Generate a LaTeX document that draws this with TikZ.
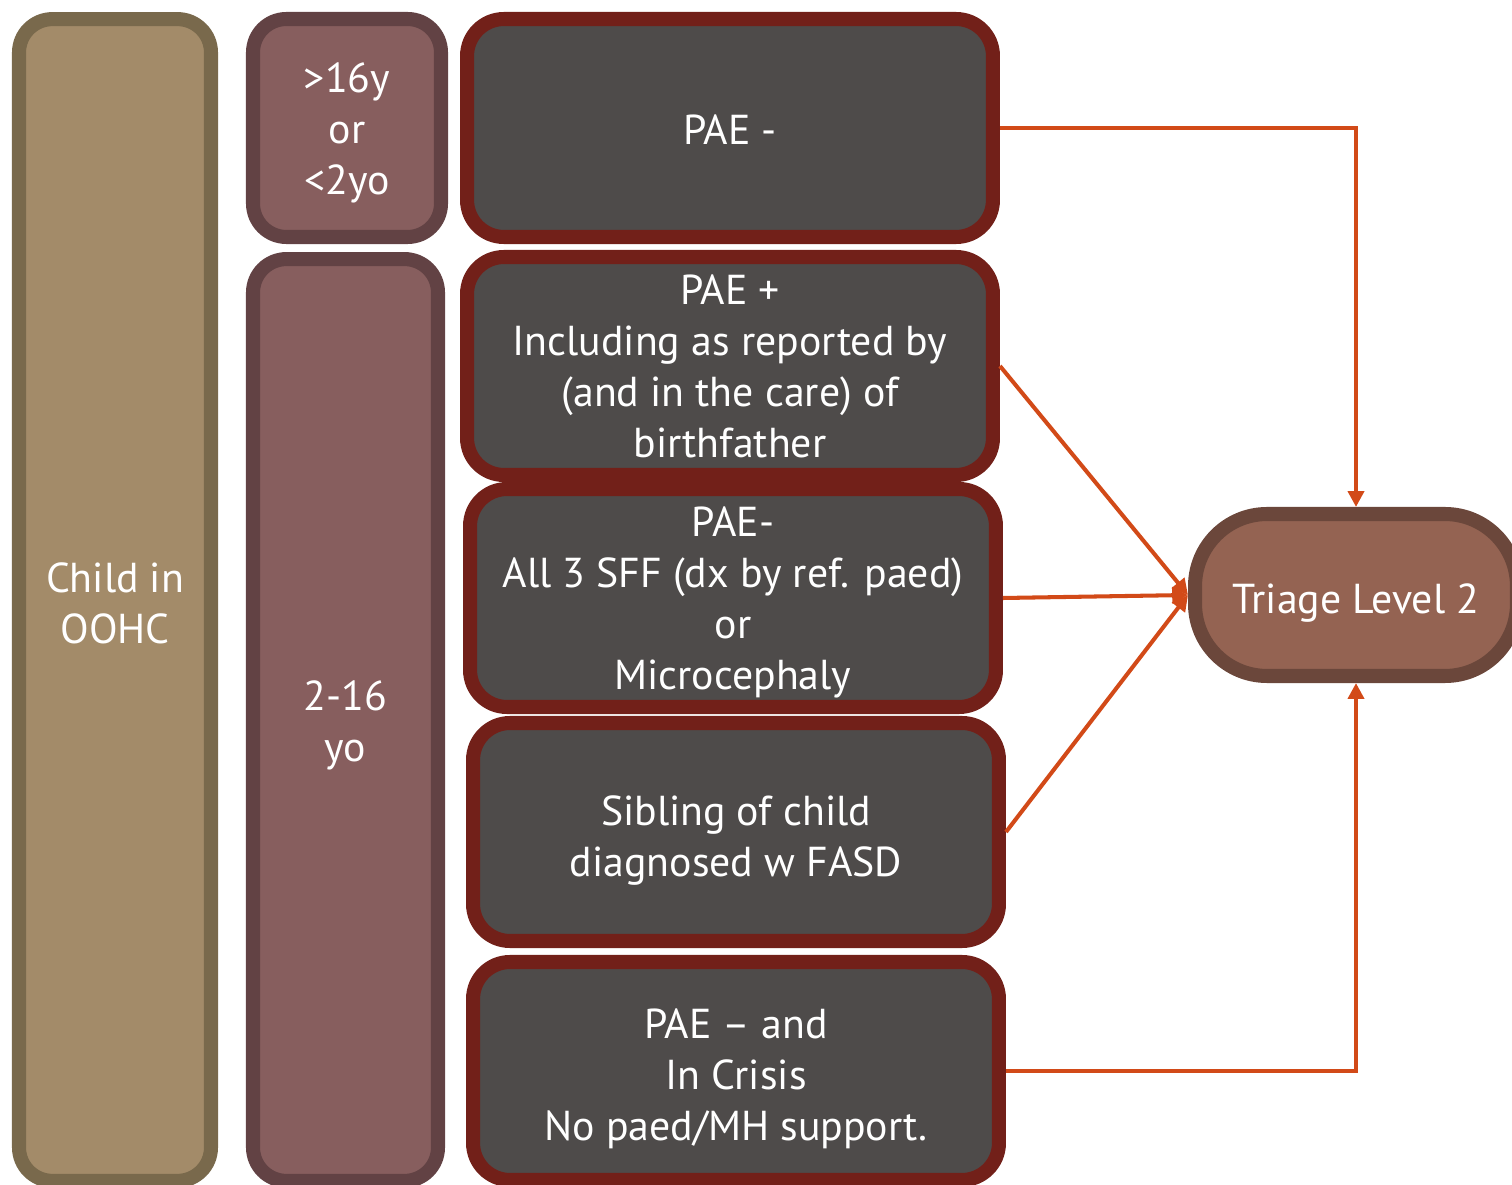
\documentclass[tikz,border=0pt]{standalone}
\usepackage{fontspec}
\setmainfont{PT Sans}
\usetikzlibrary{arrows.meta}
\definecolor{childfill}{HTML}{A38B69}
\definecolor{childedge}{HTML}{79694C}
\definecolor{agefill}{HTML}{875E5E}
\definecolor{ageedge}{HTML}{624244}
\definecolor{boxfill}{HTML}{4E4B4A}
\definecolor{boxedge}{HTML}{722019}
\definecolor{trifill}{HTML}{946352}
\definecolor{triedge}{HTML}{6B473B}
\definecolor{arrowc}{HTML}{D24A18}
\newcommand{\tstrut}[1]{\rule{0pt}{#1}}
\tikzset{
  base/.style={rectangle, line width=8pt, inner sep=0pt, align=center, text=white,
    font=\fontsize{23.8}{29}\selectfont},
  childbox/.style={base, draw=childedge, fill=childfill, rounded corners=19pt},
  agebox/.style={base, draw=ageedge, fill=agefill, rounded corners=19pt},
  darkbox/.style={base, draw=boxedge, fill=boxfill, rounded corners=21pt,
    minimum width=10.52cm, minimum height=4.36cm},
  tribox/.style={base, draw=triedge, fill=trifill, rounded corners=41pt},
  conn/.style={draw=arrowc, line width=2.3pt, -{Triangle[length=9pt,width=9pt]}}
}
\begin{document}
\begin{tikzpicture}[x=0.02cm, y=-0.02cm]
\useasboundingbox (0,0) rectangle (1512,1185);
\node[childbox, minimum width=3.84cm, minimum height=23.24cm] (child) at (115,600) {\tstrut{20.7pt}Child in\\OOHC};
\node[agebox, minimum width=3.76cm, minimum height=4.36cm] (age1) at (347,128) {\tstrut{22.4pt}>16y\\or\\<2yo};
\node[agebox, minimum width=3.70cm, minimum height=18.44cm] (age2) at (345.5,720) {\tstrut{23.5pt}2-16\\yo};
\node[darkbox, text height=19pt] (A) at (730,128) {PAE -};
\node[darkbox] (B) at (730,366) {PAE +\\Including as reported by\\(and in the care) of\\birthfather};
\node[darkbox] (C) at (733,598) {\tstrut{22.4pt}PAE-\\All 3 SFF (dx by ref. paed)\\or\\Microcephaly};
\node[darkbox] (D) at (736,832) {\tstrut{27pt}Sibling of child\\diagnosed w FASD};
\node[darkbox] (E) at (736,1071) {\tstrut{26pt}PAE –  and\\In Crisis\\No paed/MH support.};
\node[tribox, minimum width=6.44cm, minimum height=3.24cm, text height=26pt] (T) at (1356,595) {Triage Level 2};
\draw[conn] (A.east) -| (T.north);
\draw[conn] (B.east) -- (T.west);
\draw[conn] (C.east) -- (T.west);
\draw[conn] (D.east) -- (T.west);
\draw[conn] (E.east) -| (T.south);
\end{tikzpicture}
\end{document}
